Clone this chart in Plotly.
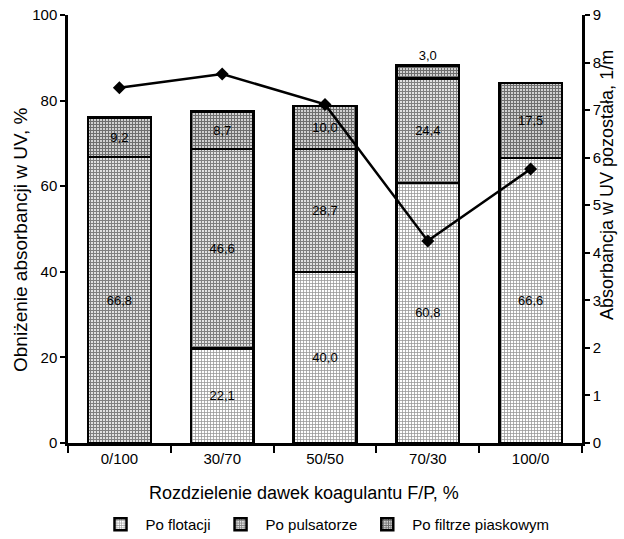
import plotly.graph_objects as go

categories = ["0/100", "30/70", "50/50", "70/30", "100/0"]
po_flotacji = [0.0, 22.1, 40.0, 60.8, 66.6]
po_pulsatorze = [66.8, 46.6, 28.7, 24.4, 0.0]
po_filtrze = [9.2, 8.7, 10.0, 3.0, 17.5]
absorbancja = [7.47, 7.76, 7.12, 4.25, 5.76]


def labels(vals):
    return [(f"{v:.1f}".replace(".", ",") if v > 0 else "") for v in vals]


font_family = "Liberation Sans, Arial, sans-serif"
fig = go.Figure()

series = [
    ("Po flotacji", po_flotacji, dict(shape="+", size=3, solidity=0.45, fgcolor="#333", bgcolor="white")),
    ("Po pulsatorze", po_pulsatorze, dict(shape="+", size=3, solidity=0.65, fgcolor="#111", bgcolor="#eeeeee")),
    ("Po filtrze piaskowym", po_filtrze, dict(shape="+", size=3, solidity=0.65, fgcolor="#000", bgcolor="#dddddd")),
]

for name, vals, pat in series:
    tp = ["outside" if (name.startswith("Po filtrze") and v < 5) else "inside" for v in vals]
    fig.add_trace(go.Bar(
        x=categories, y=vals, name=name,
        text=labels(vals), textposition=tp,
        insidetextanchor="middle",
        textfont=dict(size=13, color="black", family=font_family),
        outsidetextfont=dict(size=15, color="black", family=font_family),
        marker=dict(color="white", pattern=pat, line=dict(color="black", width=2.5)),
        width=0.61, cliponaxis=False,
    ))

fig.add_trace(go.Scatter(
    x=categories, y=absorbancja, yaxis="y2", mode="lines+markers",
    line=dict(color="black", width=2.5),
    marker=dict(symbol="diamond", size=10, color="black"),
    showlegend=False,
))

axis_common = dict(
    automargin=False, showline=True, linecolor="black", linewidth=2.5,
    ticks="outside", tickwidth=1.5, tickcolor="black", tickfont=dict(size=15),
)

fig.update_layout(
    width=624, height=539,
    barmode="stack",
    separators=", ",
    plot_bgcolor="white", paper_bgcolor="white",
    font=dict(family=font_family, color="black", size=15),
    margin=dict(l=68, r=42, t=15, b=96),
    uniformtext=dict(minsize=8, mode="show"),
    xaxis=dict(axis_common, tickson="boundaries", ticklen=7),
    yaxis=dict(axis_common, range=[0, 100], dtick=20, showgrid=False, zeroline=False, ticklen=5),
    yaxis2=dict(axis_common, range=[0, 9], dtick=1, overlaying="y", side="right",
                showgrid=False, zeroline=False, ticklen=5),
    annotations=[
        dict(text="Rozdzielenie dawek koagulantu F/P, %",
             xref="paper", yref="paper", x=(304 - 68) / 514, y=(443 - 493) / 428,
             xanchor="center", yanchor="middle", showarrow=False, font=dict(size=18)),
        dict(text="Obniżenie absorbancji w UV, %", textangle=-90,
             xref="paper", yref="paper", x=0, xshift=-48, y=(443 - 240) / 428,
             xanchor="center", yanchor="middle", showarrow=False, font=dict(size=19)),
        dict(text="Absorbancja w UV pozostała, 1/m", textangle=-90,
             xref="paper", yref="paper", x=1.0, xshift=25, y=(443 - 185) / 428,
             xanchor="center", yanchor="middle", showarrow=False, font=dict(size=18)),
    ],
    legend=dict(
        orientation="h", x=0.5, xanchor="center",
        yref="container", y=(539 - 508) / 539, yanchor="top",
        font=dict(size=15), traceorder="normal", itemwidth=40,
    ),
    bargap=0.39,
)

fig.write_html("out.html", config={"displayModeBar": False},
               post_script="document.body.style.margin='0';")
